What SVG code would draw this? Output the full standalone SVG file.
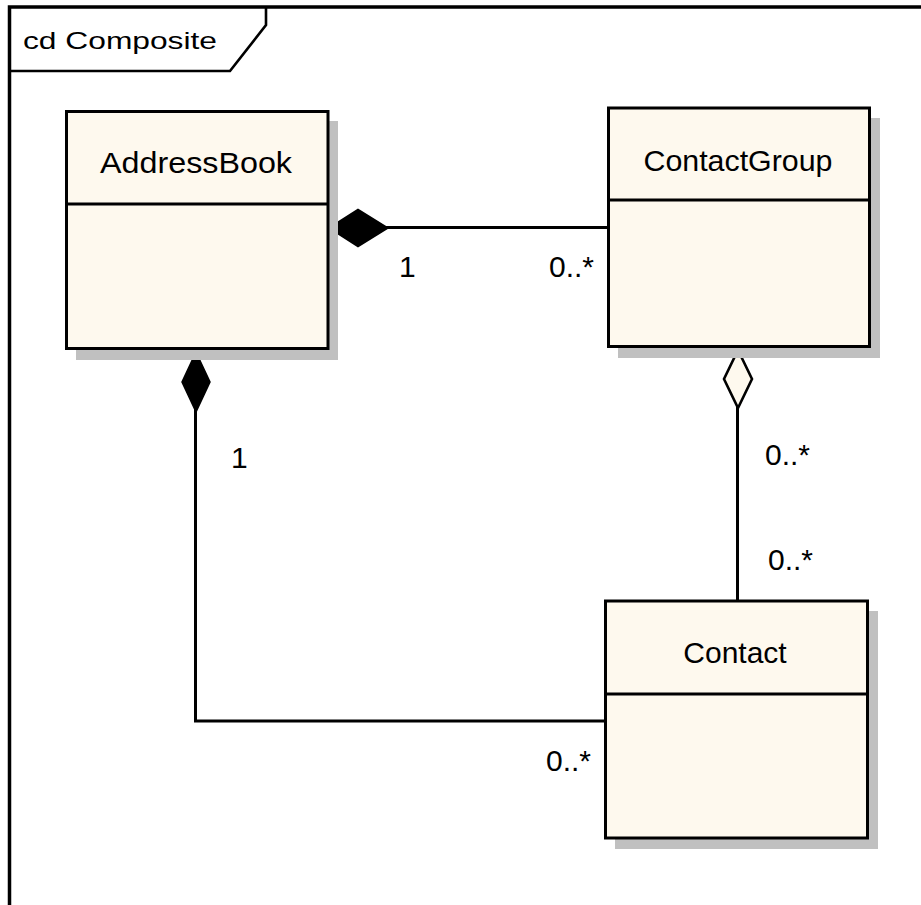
<svg xmlns="http://www.w3.org/2000/svg" width="921" height="905" viewBox="0 0 921 905">
  <style>
    .frame { fill: none; stroke: #000; stroke-width: 3.5; }
    .tab { fill: none; stroke: #000; stroke-width: 2.6; }
    .box { fill: #FEF9EE; stroke: #000; stroke-width: 3; }
    .shadow { fill: #C0C0C0; }
    .div { stroke: #000; stroke-width: 3; }
    .conn { fill: none; stroke: #000; stroke-width: 3; }
    .filled { fill: #000; stroke: #000; stroke-width: 1.5; }
    .hollow { fill: #FEF9EE; stroke: #000; stroke-width: 2.6; }
    .name { font-family: "Liberation Sans", Arial, sans-serif; font-size: 30px; fill: #000; text-anchor: middle; }
    .mult { font-family: "Liberation Sans", Arial, sans-serif; font-size: 30px; fill: #000; }
    .title { font-family: "Liberation Sans", Arial, sans-serif; font-size: 24px; fill: #000; }
  </style>
  <rect width="921" height="905" fill="#FFFFFF"/>

  <!-- diagram frame with name tab -->
  <g id="frame">
    <path class="frame" d="M9.5,905 V7 H921"/>
    <path class="tab" d="M9.5,71 H230 L266,25 V7"/>
    <text class="title" x="23" y="49" textLength="194" lengthAdjust="spacingAndGlyphs">cd Composite</text>
  </g>

  <!-- connectors -->
  <g id="connectors">
    <!-- AddressBook <>— ContactGroup (composition) -->
    <line class="conn" x1="328" y1="227.5" x2="608" y2="227.5"/>
    <polygon class="filled" points="329,228 358,209.5 388,228 358,246.5"/>
    <!-- AddressBook <>— Contact (composition) -->
    <polyline class="conn" points="195.5,349 195.5,721 605,721"/>
    <polygon class="filled" points="196,352 210,382 196,412 182,382"/>
    <!-- ContactGroup <>— Contact (aggregation) -->
    <line class="conn" x1="737.5" y1="347" x2="737.5" y2="601"/>
    <polygon class="hollow" points="738,350 752,379 738,408 724,379"/>

    <!-- multiplicities -->
    <text class="mult" x="399" y="277">1</text>
    <text class="mult" x="549" y="277">0..*</text>
    <text class="mult" x="231" y="468">1</text>
    <text class="mult" x="765" y="465">0..*</text>
    <text class="mult" x="768" y="570">0..*</text>
    <text class="mult" x="546" y="771">0..*</text>
  </g>

  <!-- classes -->
  <g id="AddressBook">
    <rect class="shadow" x="76" y="121" width="262" height="239"/>
    <rect class="box" x="66.5" y="111.5" width="261.5" height="237"/>
    <line class="div" x1="66.5" y1="204" x2="328" y2="204"/>
    <text class="name" x="196" y="173" textLength="192" lengthAdjust="spacingAndGlyphs">AddressBook</text>
  </g>

  <g id="ContactGroup">
    <rect class="shadow" x="618" y="118" width="262" height="240"/>
    <rect class="box" x="608.5" y="108" width="261" height="238.5"/>
    <line class="div" x1="608.5" y1="200" x2="869.5" y2="200"/>
    <text class="name" x="738" y="171" textLength="189" lengthAdjust="spacingAndGlyphs">ContactGroup</text>
  </g>

  <g id="Contact">
    <rect class="shadow" x="615" y="611" width="263" height="238"/>
    <rect class="box" x="605.5" y="601" width="262" height="237"/>
    <line class="div" x1="605.5" y1="694" x2="867.5" y2="694"/>
    <text class="name" x="735" y="663">Contact</text>
  </g>
</svg>
